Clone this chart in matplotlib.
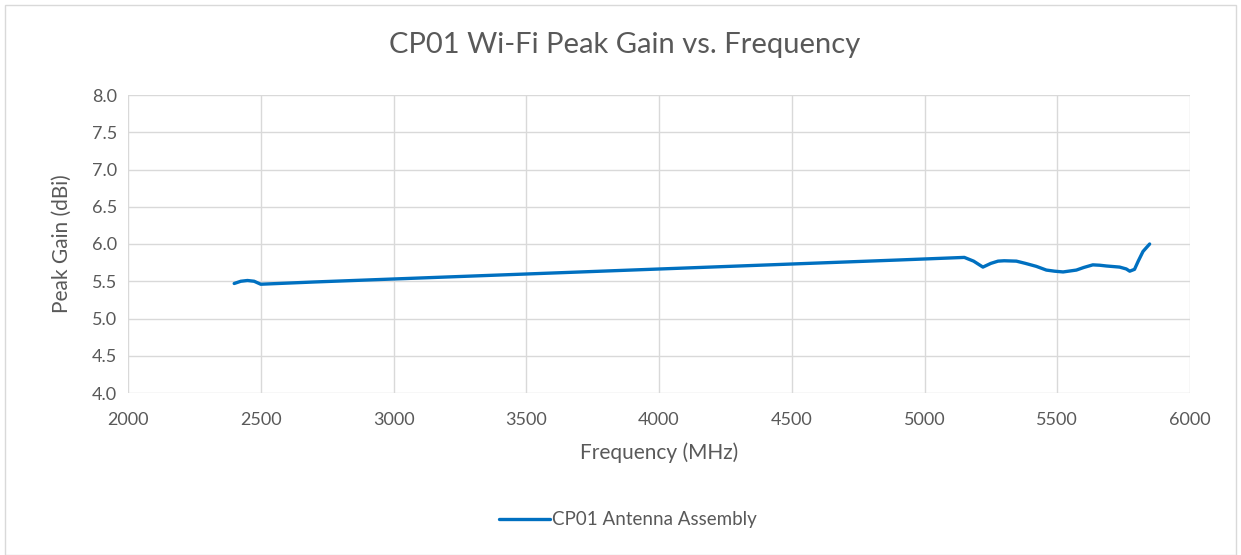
import matplotlib
matplotlib.use("Agg")
import matplotlib.pyplot as plt
from matplotlib.patches import Rectangle

freq_mhz = [2400, 2425, 2450, 2475, 2500, 2700, 4900, 5150, 5185, 5220, 5250, 5277, 5300,
            5346, 5380, 5421, 5459, 5490, 5522, 5572, 5600, 5634, 5660, 5685, 5735, 5760,
            5773, 5791, 5805, 5823, 5848]
peak_gain_dbi = [5.47, 5.50, 5.51, 5.50, 5.46, 5.49, 5.785, 5.82, 5.77, 5.69, 5.74, 5.77, 5.775,
                 5.77, 5.74, 5.70, 5.65, 5.635, 5.625, 5.65, 5.685, 5.72, 5.715, 5.705, 5.69, 5.665,
                 5.635, 5.66, 5.77, 5.90, 6.0]
x_ticks = [2000, 2500, 3000, 3500, 4000, 4500, 5000, 5500, 6000]
y_ticks = [4.0, 4.5, 5.0, 5.5, 6.0, 6.5, 7.0, 7.5, 8.0]

plt.rcParams['font.family'] = ['Lato', 'DejaVu Sans']
grey = '#595959'

fig = plt.figure(figsize=(12.41, 5.55), dpi=100)
ax = fig.add_axes([128/1241, 1-393/555, (1190-128)/1241, (393-95)/555])

ax.plot(freq_mhz, peak_gain_dbi, color='#0070C0', linewidth=2.4,
        solid_capstyle='round', solid_joinstyle='round', label='CP01 Antenna Assembly')

ax.set_xlim(2000, 6000)
ax.set_ylim(4.0, 8.0)
ax.set_xticks(x_ticks)
ax.set_yticks(y_ticks)
ax.set_yticklabels([f"{v:.1f}" for v in y_ticks])
ax.grid(True, color='#d9d9d9', linewidth=1.0)
ax.set_axisbelow(True)
for s in ax.spines.values():
    s.set_visible(False)
ax.tick_params(axis='x', length=0, labelsize=13, labelcolor=grey, pad=14)
ax.tick_params(axis='y', length=0, labelsize=13, labelcolor=grey, pad=8)

ax.set_xlabel('Frequency (MHz)', fontsize=15, color=grey, labelpad=10)
ax.set_ylabel('Peak Gain (dBi)', fontsize=15, color=grey, labelpad=14)

fig.text(625/1241, 1-45/555, 'CP01 Wi-Fi Peak Gain vs. Frequency', fontsize=21,
         color=grey, ha='center', va='center')

leg = fig.legend(loc='center', bbox_to_anchor=(628/1241, 1-520/555), frameon=False,
                 fontsize=13.5, handlelength=2.7, handletextpad=0.15)
for t in leg.get_texts():
    t.set_color(grey)

fig.patches.append(Rectangle((5/1241, 0.0), 1231/1241, 1-5/555, transform=fig.transFigure,
                             fill=False, edgecolor='#d9d9d9', linewidth=1.0))

fig.savefig('out.png', dpi=100)
